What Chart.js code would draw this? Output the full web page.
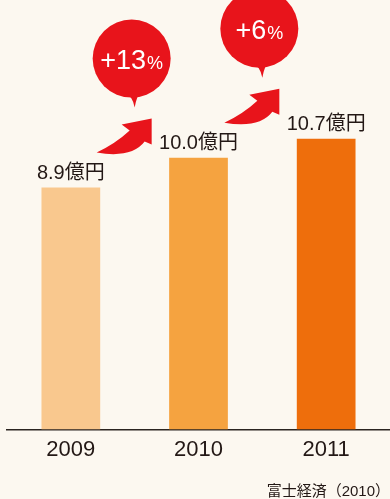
<!DOCTYPE html>
<html>
<head>
<meta charset="utf-8">
<script src="https://cdn.jsdelivr.net/npm/chart.js@4.4.0/dist/chart.umd.min.js"></script>
<style>
  html, body { margin: 0; padding: 0; background: #fcf8f0; }
  #wrap { width: 390px; height: 499px; position: relative; }
</style>
</head>
<body>
<div id="wrap"><canvas id="chart"></canvas></div>
<script>
var years = ["2009", "2010", "2011"];
var sales = [8.9, 10.0, 10.7];
var growthLabels = ["+13", "+6"];
var barColors = ["#f9c88e", "#f5a340", "#ee6e0c"];
var unitText = "億円";
var sourceText = "富士経済（2010）";

var red = "#e8141b";
var fontFamily = "'Liberation Sans', 'Noto Sans CJK JP', sans-serif";

// curved arrow, tip at (x, y), drawn tail lower left
function drawArrow(ctx, x, y) {
    ctx.save();
    ctx.translate(x, y);
    ctx.beginPath();
    ctx.moveTo(-55, 34);
    ctx.quadraticCurveTo(-36, 25, -22, 12);
    ctx.lineTo(-30, 6);
    ctx.lineTo(0, 0);
    ctx.lineTo(0, 26);
    ctx.lineTo(-7, 23);
    ctx.quadraticCurveTo(-20, 40, -55, 34);
    ctx.closePath();
    ctx.fillStyle = red;
    ctx.fill();
    ctx.restore();
}

// round speech bubble with the growth rate
function drawBubble(ctx, cx, cy, tipX, tipY, text) {
    var r = 39;
    ctx.save();
    ctx.fillStyle = red;
    ctx.beginPath();
    ctx.arc(cx, cy, r, 0, Math.PI * 2);
    ctx.fill();
    ctx.beginPath();
    ctx.moveTo(cx - 9, cy + r - 6);
    ctx.quadraticCurveTo(tipX - 2, tipY - 12, tipX, tipY);
    ctx.quadraticCurveTo(tipX + 2, tipY - 12, cx + 10, cy + r - 6);
    ctx.closePath();
    ctx.fill();

    ctx.fillStyle = "#ffffff";
    ctx.textBaseline = "alphabetic";
    ctx.textAlign = "left";
    var bigFont = "27px " + fontFamily;
    var smallFont = "18px " + fontFamily;
    ctx.font = bigFont;
    var w1 = ctx.measureText(text).width;
    ctx.font = smallFont;
    var w2 = ctx.measureText("%").width;
    var startX = cx - (w1 + w2 + 1) / 2;
    ctx.font = bigFont;
    ctx.fillText(text, startX, cy + 10);
    ctx.font = smallFont;
    ctx.fillText("%", startX + w1 + 1, cy + 10);
    ctx.restore();
}

var decorations = {
    id: "decorations",
    afterDatasetsDraw: function (chart) {
        var ctx = chart.ctx;
        var bars = chart.getDatasetMeta(0).data;

        // value labels above the bars
        ctx.save();
        ctx.fillStyle = "#231815";
        ctx.font = "20px " + fontFamily;
        ctx.textAlign = "center";
        ctx.textBaseline = "bottom";
        for (let i = 0; i < bars.length; i++) {
            ctx.fillText(sales[i].toFixed(1) + unitText, bars[i].x, bars[i].y - 4);
        }
        ctx.restore();

        // arrows and bubbles between the bars
        for (let i = 0; i < growthLabels.length; i++) {
            var left = bars[i];
            var right = bars[i + 1];
            var mid = (left.x + right.x) / 2;
            var top = left.y;
            drawArrow(ctx, mid + 17, top - 69);
            drawBubble(ctx, mid - 3, top - 129, mid, top - 80, growthLabels[i]);
        }
    }
};

Chart.defaults.font.family = fontFamily;

new Chart(document.getElementById("chart"), {
    type: "bar",
    data: {
        labels: years,
        datasets: [{
            data: sales,
            backgroundColor: barColors,
            borderWidth: 0,
            barPercentage: 1,
            categoryPercentage: 0.46
        }]
    },
    options: {
        responsive: true,
        maintainAspectRatio: false,
        animation: false,
        layout: { padding: { left: 7, right: 0, top: 0, bottom: 0 } },
        plugins: {
            legend: { display: false },
            tooltip: { enabled: false }
        },
        scales: {
            x: {
                grid: { display: false, drawTicks: false },
                border: { display: true, color: "#2a2420", width: 1.5 },
                ticks: { color: "#231815", font: { size: 22 }, padding: 7 },
                title: {
                    display: true,
                    text: sourceText,
                    align: "end",
                    color: "#231815",
                    font: { size: 15 },
                    padding: { top: 13, bottom: -2 }
                }
            },
            y: {
                display: false,
                min: 0,
                max: 15.8
            }
        }
    },
    plugins: [decorations]
});
</script>
</body>
</html>
